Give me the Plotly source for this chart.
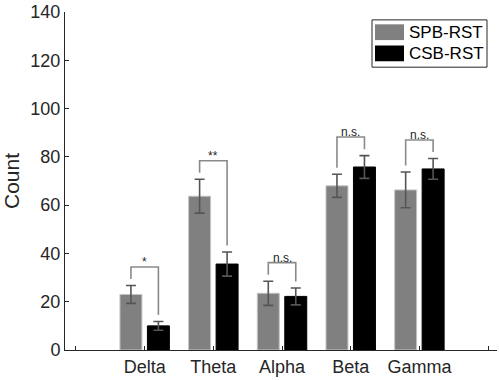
import plotly.graph_objects as go

# ── data ──
categories = ["Delta", "Theta", "Alpha", "Beta", "Gamma"]
spb_mean = [23.0, 63.7, 23.5, 68.0, 66.3]
spb_err = [3.7, 7.0, 5.0, 4.8, 7.4]
csb_mean = [10.0, 35.6, 22.2, 75.8, 75.0]
csb_err = [1.8, 5.0, 3.5, 4.7, 4.3]
sig_labels = ["*", "**", "n.s.", "n.s.", "n.s."]
series_names = ["SPB-RST", "CSB-RST"]

FONT = "Liberation Sans, Arial, Helvetica, sans-serif"
AXIS_COLOR = "#262626"
GRAY = "#808080"
ERR_COLOR = "#555555"
BRACKET_COLOR = "#8a8a8a"

W, H = 499, 380
MARGIN = dict(l=65, r=2, t=7, b=30)

x_pos = list(range(1, len(categories) + 1))
half = 0.2  # offset of each bar centre from the group centre

fig = go.Figure()

for name, means, errs, fill, edge in [
    (series_names[0], spb_mean, spb_err, GRAY, "#c4c4c4"),
    (series_names[1], csb_mean, csb_err, "#000000", "#000000"),
]:
    fig.add_trace(go.Bar(
        x=x_pos, y=means, name=name,
        marker=dict(color=fill, line=dict(color=edge, width=1)),
        error_y=dict(type="data", array=errs, color=ERR_COLOR, thickness=1.6, width=5),
        showlegend=False,
    ))

# ── significance brackets ──
bx, by = [], []
for i, xc in enumerate(x_pos):
    top_l = spb_mean[i] + spb_err[i]
    top_r = csb_mean[i] + csb_err[i]
    top = max(top_l, top_r) + 7.7
    bx += [xc - half, xc - half, xc + half, xc + half, None]
    by += [top_l + 2.7, top, top, top_r + 2.7, None]
    fig.add_annotation(
        x=xc, y=top, xref="x", yref="y", text=sig_labels[i], showarrow=False,
        yanchor="bottom", yshift=-4, font=dict(size=12, color=AXIS_COLOR, family=FONT),
    )

fig.add_trace(go.Scatter(
    x=bx, y=by, mode="lines", line=dict(color=BRACKET_COLOR, width=1.6),
    hoverinfo="skip", showlegend=False,
))

# ── legend drawn in pixel space ──
pw = W - MARGIN["l"] - MARGIN["r"]
ph = H - MARGIN["t"] - MARGIN["b"]


def px(xp):
    return (xp - MARGIN["l"]) / pw


def py(yp):
    return (H - MARGIN["b"] - yp) / ph


fig.add_shape(type="rect", xref="paper", yref="paper",
              x0=px(372), x1=px(487), y0=py(63), y1=py(15),
              line=dict(color=AXIS_COLOR, width=1), fillcolor="white")
for k, (name, col) in enumerate(zip(series_names, [GRAY, "#000000"])):
    yc = 27.5 + k * 21.5
    fig.add_shape(type="rect", xref="paper", yref="paper",
                  x0=px(375), x1=px(404), y0=py(yc + 8), y1=py(yc - 8),
                  line=dict(width=0), fillcolor=col)
    fig.add_annotation(x=px(407), y=py(yc), xref="paper", yref="paper",
                       text=name, showarrow=False, xanchor="left", yanchor="middle",
                       font=dict(size=17, color="#000000", family=FONT))

fig.update_layout(
    width=W, height=H,
    margin=MARGIN,
    paper_bgcolor="white", plot_bgcolor="white",
    barmode="group", bargap=0.2, bargroupgap=0.2,
    font=dict(family=FONT, size=18, color=AXIS_COLOR),
    showlegend=False,
)

fig.update_xaxes(
    range=[-0.16, 6.13],
    tickvals=[0] + x_pos + [len(categories) + 1],
    ticktext=[""] + categories + [""],
    showline=True, linecolor=AXIS_COLOR, linewidth=1,
    ticks="inside", ticklen=4, tickcolor=AXIS_COLOR,
    showgrid=False, zeroline=False,
    tickfont=dict(size=18, color=AXIS_COLOR),
)
fig.update_yaxes(
    range=[0, 140], dtick=20,
    showline=True, linecolor=AXIS_COLOR, linewidth=1,
    ticks="inside", ticklen=4, tickcolor=AXIS_COLOR,
    showgrid=False, zeroline=False,
    tickfont=dict(size=18, color=AXIS_COLOR),
    ticklabeloverflow="allow",
    title=dict(text="Count", font=dict(size=21, color=AXIS_COLOR), standoff=10),
)

# the page's default 8px body margin would push the figure off the window
fig.write_html(
    "out.html",
    config={"displayModeBar": False},
    post_script="document.body.style.margin='0';",
)
